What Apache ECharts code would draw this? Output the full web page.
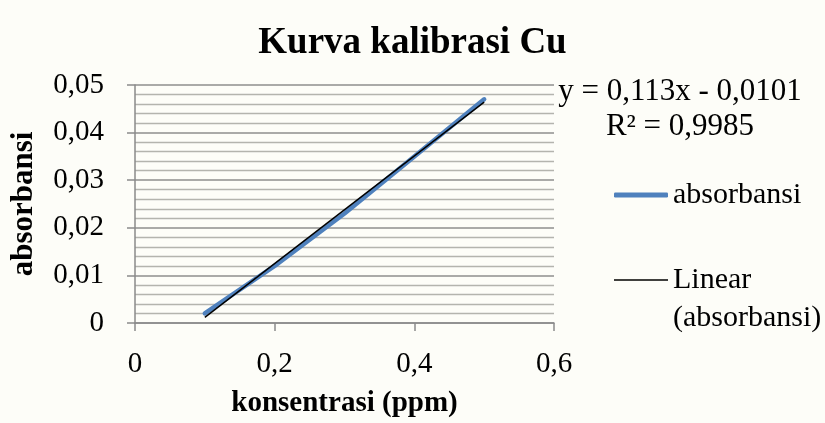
<!DOCTYPE html>
<html>
<head>
<meta charset="utf-8">
<script src="https://cdn.jsdelivr.net/npm/echarts@6/dist/echarts.min.js"></script>
<style>
html,body{margin:0;padding:0;background:#fdfdf8;}
#chart{width:825px;height:423px;}
</style>
</head>
<body>
<div id="chart"></div>
<script>
var concentration = [0.1, 0.2, 0.3, 0.4, 0.5];
var absorbance = [0.002, 0.012, 0.023, 0.035, 0.047];
var trendX = [0.1, 0.5];
var trendY = [0.0012, 0.0464];
var equationText = 'y = 0,113x - 0,0101';
var r2Text = 'R\u00b2 = 0,9985';
var seriesName = 'absorbansi';
var trendName = 'Linear (absorbansi)';

var font = '"Liberation Serif", "Times New Roman", serif';
var fmt = function (v) { return String(+v.toFixed(3)).replace('.', ','); };

var chart = echarts.init(document.getElementById('chart'), null, {renderer: 'canvas'});
chart.setOption({
  backgroundColor: '#fdfdf8',
  animation: false,
  title: {
    text: 'Kurva kalibrasi Cu',
    left: 'center', top: 20,
    textStyle: {fontFamily: font, fontSize: 37, fontWeight: 'bold', color: '#000'}
  },
  grid: {left: 130, right: 271, top: 85, bottom: 100, containLabel: false},
  xAxis: {
    type: 'value', min: 0, max: 0.6, interval: 0.2,
    name: 'konsentrasi (ppm)', nameLocation: 'middle', nameGap: 66,
    nameTextStyle: {fontFamily: font, fontSize: 29, fontWeight: 'bold', color: '#000'},
    axisLine: {show: true, onZero: false, lineStyle: {color: '#8a8a8a', width: 1.5}},
    axisTick: {show: true, inside: false, length: 8, lineStyle: {color: '#8a8a8a', width: 1.5}},
    axisLabel: {fontFamily: font, fontSize: 29, color: '#000', margin: 27, formatter: fmt},
    splitLine: {show: false}
  },
  yAxis: {
    type: 'value', min: 0, max: 0.05, interval: 0.01,
    name: 'absorbansi', nameLocation: 'middle', nameGap: 96,
    nameTextStyle: {fontFamily: font, fontSize: 31, fontWeight: 'bold', color: '#000'},
    axisLine: {show: true, lineStyle: {color: '#8a8a8a', width: 1.5}},
    axisTick: {show: true, length: 8, lineStyle: {color: '#8a8a8a', width: 1.5}},
    axisLabel: {fontFamily: font, fontSize: 29, color: '#000', margin: 31, formatter: fmt},
    splitLine: {show: true, lineStyle: {color: '#8e8e8e', width: 1.5}},
    minorTick: {show: false, splitNumber: 5},
    minorSplitLine: {show: true, lineStyle: {color: '#b4b4ae', width: 1.3}}
  },
  legend: [{
    data: [{name: seriesName, icon: 'roundRect', itemStyle: {color: '#4f81bd'}}],
    orient: 'vertical', left: 609, top: 171,
    itemWidth: 54, itemHeight: 5, itemGap: 0,
    textStyle: {fontFamily: font, fontSize: 30, color: '#000', lineHeight: 38}
  }, {
    data: [{name: trendName, icon: 'rect', itemStyle: {color: '#000'}}],
    orient: 'vertical', left: 609, top: 218,
    itemWidth: 54, itemHeight: 1.5, itemGap: 0,
    formatter: function () { return ' \nLinear\n(absorbansi)'; },
    textStyle: {fontFamily: font, fontSize: 30, color: '#000', lineHeight: 38}
  }],
  graphic: [{
    type: 'text',
    style: {text: equationText, x: 680, y: 92, textAlign: 'center', textVerticalAlign: 'middle',
      font: '31px ' + font, fill: '#000'}
  }, {
    type: 'text',
    style: {text: r2Text, x: 680, y: 127, textAlign: 'center', textVerticalAlign: 'middle',
      font: '31px ' + font, fill: '#000'}
  }],
  series: [{
    name: seriesName, type: 'line', showSymbol: false, symbol: 'none',
    data: concentration.map(function (x, i) { return [x, absorbance[i]]; }),
    lineStyle: {color: '#4f81bd', width: 4.5, cap: 'round'},
    itemStyle: {color: '#4f81bd'}
  }, {
    name: trendName, type: 'line', showSymbol: false, symbol: 'none',
    data: trendX.map(function (x, i) { return [x, trendY[i]]; }),
    lineStyle: {color: '#000', width: 1.5},
    itemStyle: {color: '#000'}
  }]
});
</script>
</body>
</html>
